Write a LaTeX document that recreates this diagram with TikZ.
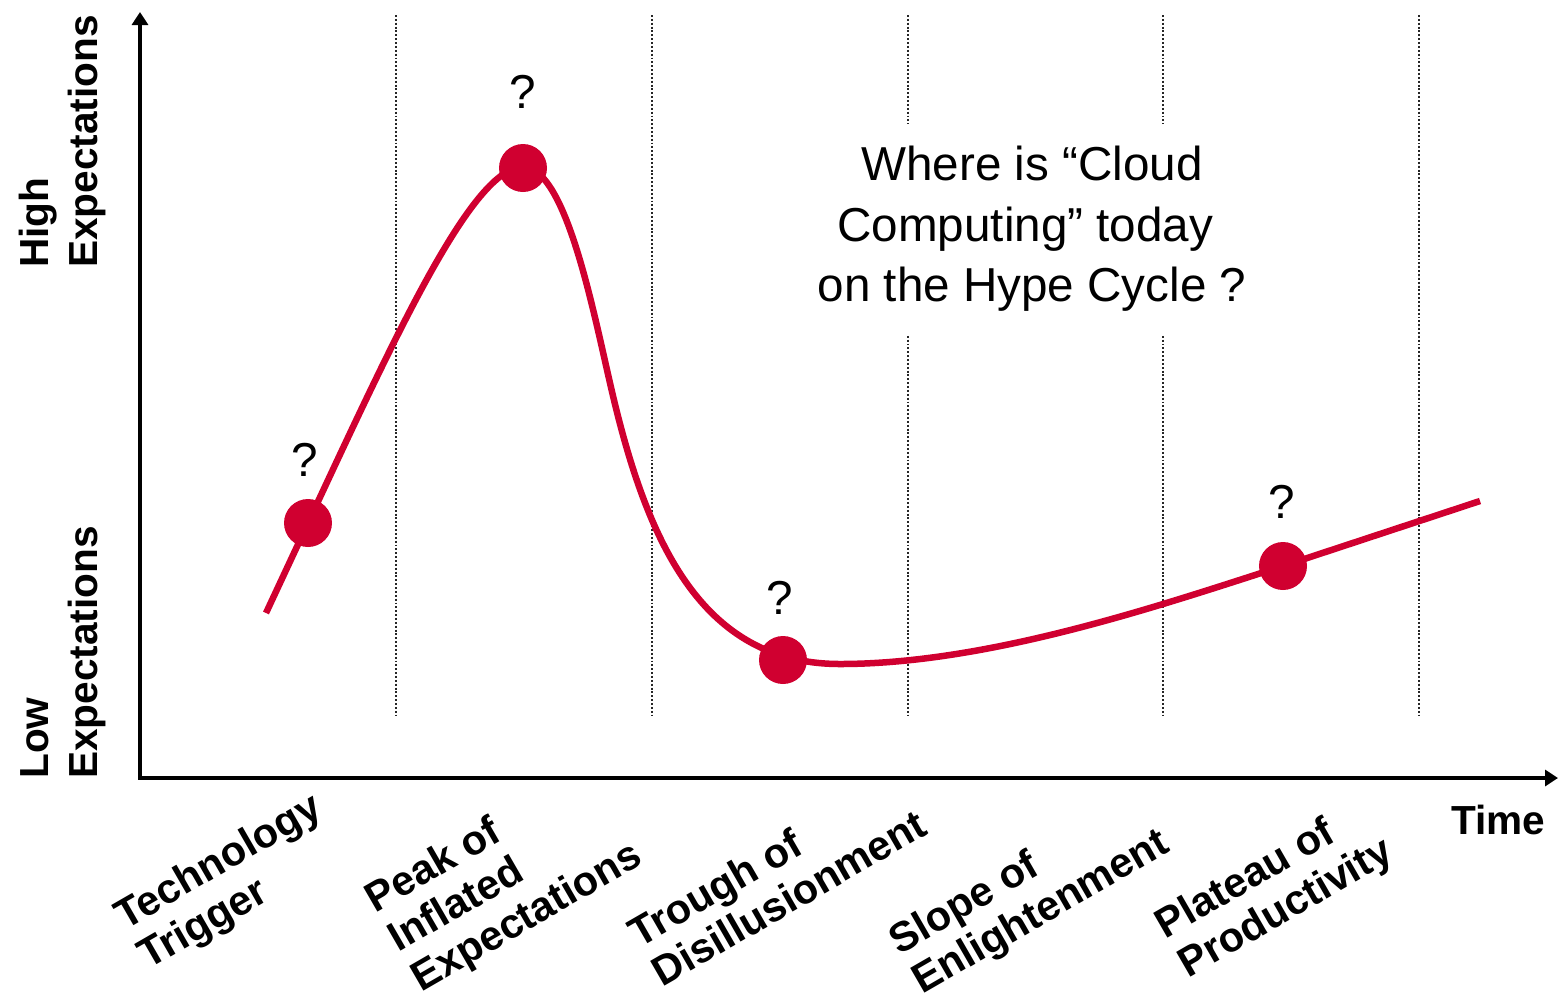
\documentclass[tikz,border=0pt]{standalone}
\usepackage{fontspec}
\setmainfont{Liberation Sans}
\usetikzlibrary{arrows.meta}
\definecolor{hypered}{RGB}{208,0,48}
\begin{document}
\begin{tikzpicture}[x=0.02cm, y=-0.02cm,
  guide/.style={line width=1.1pt, dash pattern=on 1.1pt off 1.1pt, black!85},
  axisline/.style={line width=2.6pt, line join=miter, {Triangle[length=0.26cm,width=0.32cm]}-{Triangle[length=0.26cm,width=0.32cm]}},
  hype/.style={line width=3.7pt, hypered},
  dot/.style={circle, fill=hypered, minimum size=0.96cm, inner sep=0pt},
  qmark/.style={font=\fontsize{27.1}{32}\selectfont, inner sep=0pt},
  phase/.style={rotate=30, anchor=north west, align=left, inner sep=0pt, font=\bfseries\fontsize{23.6}{26}\selectfont},
  ylab/.style={rotate=90, anchor=south west, align=left, inner sep=0pt, font=\bfseries\fontsize{23.1}{27.9}\selectfont},
  question/.style={fill=white, inner sep=0pt, minimum height=4.2cm, align=center, font=\fontsize{27.1}{34.4}\selectfont}
]
\useasboundingbox (0,0) rectangle (1559,995);

% phase separators
\foreach \gx in {396,652,908,1163,1419}
  \draw[guide] (\gx,15) -- (\gx,715);

% question text (covers separators)
\node[question] (quest) at (1032,229) {Where is “Cloud\\Computing” today\rule{0.28em}{0pt}\\on the Hype Cycle ?};

% axes
\coordinate (ytip) at (140,12);
\coordinate (origin) at (140,778);
\coordinate (xtip) at (1558,778);
\draw[axisline] (ytip) -- (origin) -- (xtip);

% hype curve
\coordinate (cstart) at (266,613);
\coordinate (cend) at (1480,501);
\draw[hype] (cstart) -- (308,523)
  .. controls (398,330) and (473,167) .. (523,167)
  .. controls (565,167) and (592,305) .. (610,383)
  .. controls (645.5,539) and (700,664) .. (840,664)
  .. controls (990,664) and (1163,604.4) .. (1283,566)
  -- (cend);

% dots and question marks
\node[dot] (d1) at (308,523) {};
\node[dot] (d2) at (523,168) {};
\node[dot] (d3) at (783,660) {};
\node[dot] (d4) at (1283,566) {};
\node[qmark] (q1) at (305,460) {?};
\node[qmark] (q2) at (523,92) {?};
\node[qmark] (q3) at (780,598) {?};
\node[qmark] (q4) at (1282,502) {?};

% axis labels
\node[ylab] (high) at (106,268) {High\\Expectations};
\node[ylab] (low) at (106,779) {Low\\Expectations};
\node[font=\bfseries\fontsize{23.1}{27.9}\selectfont, anchor=base west, inner sep=0pt] (time) at (1451,834) {Time};

% phase labels
\node[phase] (trigger) at (110,904) {Technology\\Trigger};
\node[phase] (peak) at (360,887) {Peak of\\Inflated\\Expectations};
\node[phase] (trough) at (624,922) {Trough of\\Disillusionment};
\node[phase] (slope) at (884,929) {Slope of\\Enlightenment};
\node[phase] (plateau) at (1150,913) {Plateau of\\Productivity};
\end{tikzpicture}
\end{document}
